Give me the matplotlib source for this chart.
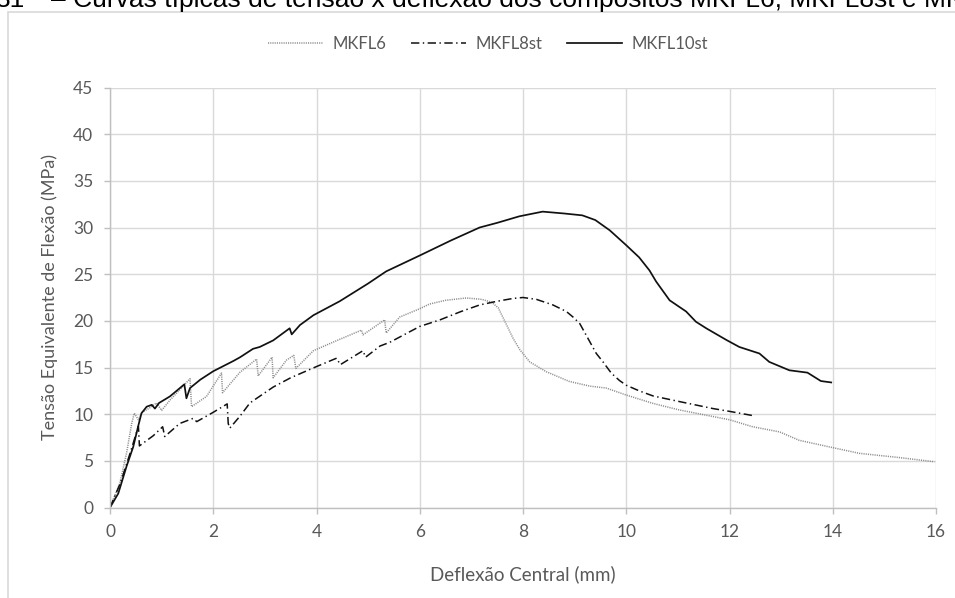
import matplotlib
matplotlib.use("Agg")
import matplotlib.pyplot as plt
from matplotlib.patches import Rectangle

# Flexural stress vs. central deflection curves
mkfl6_x = [0, 0.19, 0.32, 0.42, 0.47, 0.55, 0.62, 0.75, 0.90, 1.0, 1.16, 1.35, 1.55, 1.58,
           1.87, 2.16, 2.18, 2.52, 2.84, 2.87, 3.14, 3.16, 3.42, 3.56, 3.60, 3.94, 4.4,
           4.87, 4.90, 5.32, 5.35, 5.61, 6.0, 6.19, 6.5, 6.90, 7.2, 7.39, 7.52, 7.67, 7.81,
           7.94, 8.13, 8.45, 8.90, 9.3, 9.61, 10.0, 10.52, 11.03, 12.0, 12.45, 12.97,
           13.35, 13.97, 14.52, 15.29, 15.97]
mkfl6_y = [0, 2.6, 5.8, 9.0, 10.1, 9.4, 10.2, 10.6, 11.2, 10.4, 11.5, 12.6, 13.8, 10.8,
           11.9, 14.4, 12.3, 14.5, 15.9, 14.1, 16.1, 13.9, 15.8, 16.3, 14.9, 16.8, 17.9,
           19.0, 18.5, 20.1, 18.7, 20.4, 21.3, 21.8, 22.2, 22.45, 22.3, 22.0, 21.4, 19.7,
           18.1, 16.9, 15.6, 14.55, 13.5, 13.0, 12.8, 12.05, 11.15, 10.45, 9.4, 8.65, 8.1,
           7.2, 6.45, 5.8, 5.35, 4.9]

mkfl8st_x = [0, 0.2, 0.4, 0.55, 0.57, 0.84, 1.02, 1.06, 1.35, 1.61, 1.68, 2.0, 2.27, 2.29,
             2.32, 2.52, 2.71, 3.16, 3.5, 4.0, 4.39, 4.46, 4.90, 4.95, 5.23, 5.42, 6.0,
             6.39, 6.8, 7.16, 7.5, 7.81, 8.0, 8.26, 8.58, 8.84, 8.97, 9.10, 9.2, 9.35,
             9.42, 9.55, 9.71, 9.87, 10.0, 10.25, 10.52, 11.03, 11.68, 12.0, 12.45]
mkfl8st_y = [0, 2.6, 6.0, 8.7, 6.6, 7.7, 8.65, 7.6, 9.0, 9.55, 9.2, 10.2, 11.1, 9.0,
             8.5, 9.8, 11.2, 12.9, 13.9, 15.1, 16.0, 15.3, 16.8, 16.1, 17.3, 17.7, 19.4,
             20.1, 21.0, 21.7, 22.1, 22.4, 22.5, 22.3, 21.7, 21.0, 20.4, 19.7, 18.7, 17.2,
             16.5, 15.6, 14.4, 13.6, 13.1, 12.5, 11.95, 11.35, 10.6, 10.3, 9.85]

mkfl10st_x = [0, 0.16, 0.32, 0.45, 0.55, 0.61, 0.71, 0.81, 0.87, 0.95, 1.16, 1.29, 1.44,
              1.48, 1.55, 1.75, 2.0, 2.39, 2.52, 2.77, 2.90, 3.16, 3.48, 3.52, 3.68, 3.94,
              4.45, 5.0, 5.35, 6.0, 6.6, 7.16, 7.5, 7.93, 8.38, 8.8, 9.15, 9.4, 9.68,
              10.0, 10.25, 10.45, 10.58, 10.84, 11.16, 11.35, 11.55, 11.94, 12.19, 12.58,
              12.77, 13.16, 13.51, 13.77, 13.97]
mkfl10st_y = [0, 1.5, 4.4, 6.5, 8.8, 10.1, 10.8, 11.0, 10.6, 11.2, 11.9, 12.5, 13.2,
              11.7, 12.8, 13.7, 14.6, 15.7, 16.1, 17.0, 17.2, 17.9, 19.2, 18.55, 19.55,
              20.6, 22.1, 24.0, 25.3, 27.0, 28.6, 30.0, 30.5, 31.2, 31.7, 31.5, 31.3, 30.8,
              29.7, 28.1, 26.8, 25.4, 24.2, 22.2, 21.0, 19.9, 19.2, 17.95, 17.2, 16.5,
              15.6, 14.7, 14.45, 13.55, 13.4]

series_names = ["MKFL6", "MKFL8st", "MKFL10st"]
x_ticks = list(range(0, 17, 2))
y_ticks = list(range(0, 46, 5))
x_label = "Deflexão Central (mm)"
y_label = "Tensão Equivalente de Flexão (MPa)"
fig_number = "31"
caption = "– Curvas típicas de tensão x deflexão dos compósitos MKFL6, MKFL8st e MKFL10st"

plt.rcParams["font.family"] = ["Lato", "DejaVu Sans"]
plt.rcParams["lines.scale_dashes"] = False

TXT = "#595959"
GRID = "#d9d9d9"

fig = plt.figure(figsize=(9.55, 5.98), dpi=100)
ax = fig.add_axes([110 / 955, 1 - 507.5 / 598, (936 - 110) / 955, (507.5 - 87.5) / 598])

ax.plot(mkfl6_x, mkfl6_y, color="#8c8c8c", lw=1.1, linestyle=(0, (0.8, 0.8)),
        label=series_names[0])
ax.plot(mkfl8st_x, mkfl8st_y, color="#111111", lw=1.1, linestyle=(0, (6, 2.5, 1, 2.5)),
        label=series_names[1])
ax.plot(mkfl10st_x, mkfl10st_y, color="#111111", lw=1.25, label=series_names[2])

ax.set_xlim(0, 16)
ax.set_ylim(0, 45)
ax.set_xticks(x_ticks)
ax.set_yticks(y_ticks)
ax.grid(True, color=GRID, lw=1.0)
ax.set_axisbelow(True)
for side in ("top", "right"):
    ax.spines[side].set_visible(False)
for side in ("left", "bottom"):
    ax.spines[side].set_color("#bfbfbf")
    ax.spines[side].set_linewidth(1.0)
ax.tick_params(axis="both", colors="#bfbfbf", labelcolor=TXT, labelsize=12.5,
               length=4, width=1.0, pad=8)

ax.set_xlabel(x_label, color=TXT, fontsize=13.5, labelpad=18)
ax.set_ylabel(y_label, color=TXT, fontsize=13, labelpad=11)

fig.legend(loc="center", bbox_to_anchor=(488 / 955, 1 - 44 / 598), ncol=3,
           frameon=False, fontsize=12, handlelength=3.3, handletextpad=0.55,
           columnspacing=1.5, labelcolor=TXT)

# chart area border
fig.patches.append(Rectangle((8 / 955, -0.1), 1.2, 1.1 - 12 / 598, transform=fig.transFigure,
                             fill=False, edgecolor=GRID, lw=1.2, clip_on=False))

title_font = ["Liberation Sans", "DejaVu Sans"]
fig.text(25 / 955, 1 - 7 / 598, fig_number, family=title_font, fontsize=19,
         color="black", ha="right", va="baseline")
fig.text(51 / 955, 1 - 7 / 598, caption, family=title_font, fontsize=19,
         color="black", ha="left", va="baseline")

fig.savefig("out.png", dpi=100, facecolor="white")
